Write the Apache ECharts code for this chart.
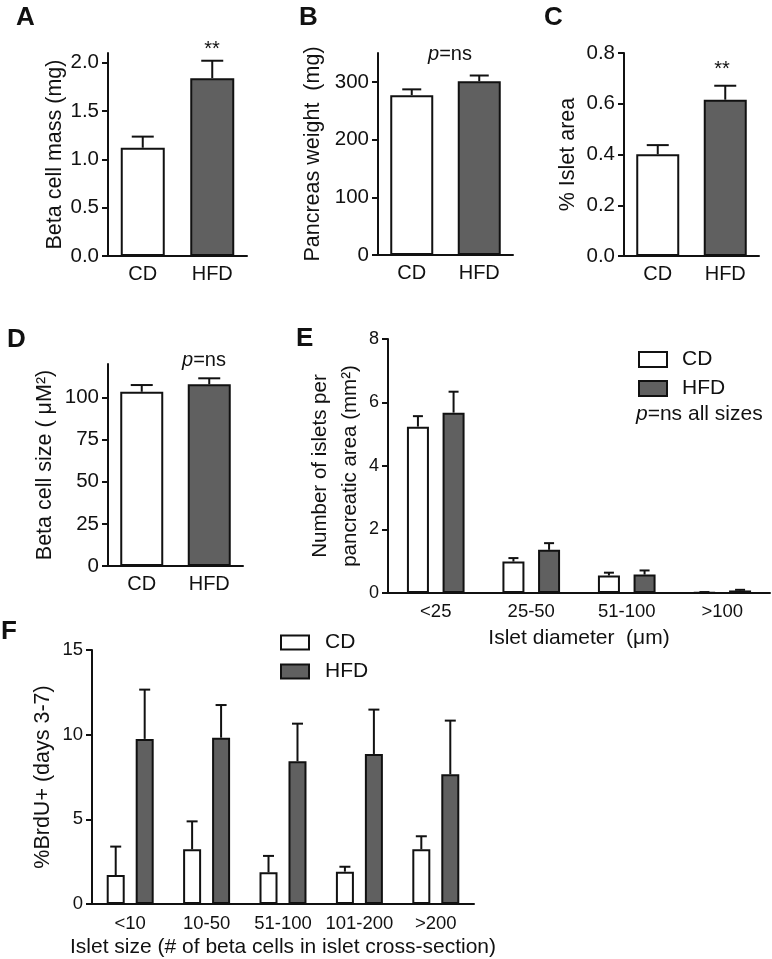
<!DOCTYPE html>
<html>
<head>
<meta charset="utf-8">
<script src="https://cdn.jsdelivr.net/npm/echarts@6/dist/echarts.min.js"></script>
<style>html,body{margin:0;padding:0;background:#fff;}#chart{width:772px;height:959px;}</style>
</head>
<body>
<div id="chart"></div>
<script>
// ---------- data ----------
const groupsAD = ['CD', 'HFD'];
const betaMass = [1.12, 1.84];
const betaMassErr = [0.115, 0.18];
const ticksA = [0, 0.5, 1.0, 1.5, 2.0];

const pancreasWeight = [277, 301];
const pancreasWeightErr = [10, 10];
const ticksB = [0, 100, 200, 300];

const isletArea = [0.401, 0.616];
const isletAreaErr = [0.036, 0.055];
const ticksC = [0, 0.2, 0.4, 0.6, 0.8];

const betaSize = [103.5, 107.9];
const betaSizeErr = [4.0, 3.6];
const ticksD = [0, 25, 50, 75, 100];

const diamCats = ['<25', '25-50', '51-100', '>100'];
const diamCD = [5.24, 0.99, 0.55, 0.02];
const diamCDErr = [0.33, 0.11, 0.09, 0.01];
const diamHFD = [5.68, 1.36, 0.58, 0.08];
const diamHFDErr = [0.66, 0.21, 0.13, 0.02];
const ticksE = [0, 2, 4, 6, 8];

const sizeCats = ['<10', '10-50', '51-100', '101-200', '>200'];
const brduCD = [1.71, 3.23, 1.87, 1.91, 3.23];
const brduCDErr = [1.68, 1.65, 0.97, 0.29, 0.77];
const brduHFD = [9.75, 9.82, 8.43, 8.86, 7.66];
const brduHFDErr = [2.91, 1.93, 2.22, 2.62, 3.17];
const ticksF = [0, 5, 10, 15];

// ---------- style ----------
const FONT = '"Liberation Sans", Arial, Helvetica, sans-serif';
const BLACK = '#111';
const WHITE_BAR = '#ffffff';
const DARK_BAR = '#606060';

const chart = echarts.init(document.getElementById('chart'), null, {renderer: 'canvas'});

const grids = [
  {left: 108, top: 53, width: 139, height: 203},   // A
  {left: 378, top: 53, width: 135, height: 202},   // B
  {left: 624, top: 53, width: 135, height: 203},   // C
  {left: 108, top: 364, width: 135, height: 202},  // D
  {left: 388, top: 339, width: 382, height: 254},  // E
  {left: 92, top: 650, width: 382, height: 254}    // F
].map(g => Object.assign({outerBoundsMode: 'none', containLabel: false}, g));

function xAx(gi, cats, fs, margin, name, nameGap, nameSize) {
  return {
    type: 'category', gridIndex: gi, data: cats,
    axisLine: {lineStyle: {color: BLACK, width: 2}},
    axisTick: {show: false},
    axisLabel: {color: BLACK, fontSize: fs, fontFamily: FONT, margin: margin, interval: 0},
    name: name || '', nameLocation: 'middle', nameGap: nameGap || 0,
    nameTextStyle: {color: BLACK, fontSize: nameSize || 21, fontFamily: FONT},
    splitLine: {show: false}
  };
}
function yAx(gi, max, ticks, fs, fmt, name, nameGap, nameSize, extraName) {
  return {
    type: 'value', gridIndex: gi, min: 0, max: max,
    axisLine: {show: true, lineStyle: {color: BLACK, width: 2}},
    axisTick: {show: true, length: 6, lineStyle: {color: BLACK, width: 2}, customValues: ticks},
    axisLabel: {color: BLACK, fontSize: fs, fontFamily: FONT, margin: 9, customValues: ticks, formatter: fmt},
    splitLine: {show: false},
    name: name, nameLocation: 'middle', nameGap: nameGap,
    nameTextStyle: Object.assign({color: BLACK, fontSize: nameSize, fontFamily: FONT}, extraName || {})
  };
}

const f1 = v => Number(v).toFixed(1);
const f0 = v => String(Math.round(v));

function singleBars(gi, vals, bw) {
  return {
    type: 'bar', name: 'panel' + gi, xAxisIndex: gi, yAxisIndex: gi, barWidth: bw,
    data: vals.map((v, i) => ({value: v, itemStyle: {color: i === 0 ? WHITE_BAR : DARK_BAR}})),
    itemStyle: {borderColor: BLACK, borderWidth: 2}, z: 2, silent: true
  };
}
function groupBars(gi, name, vals, color, bw, gap) {
  return {
    type: 'bar', name: name, xAxisIndex: gi, yAxisIndex: gi, barWidth: bw, barGap: gap,
    data: vals, itemStyle: {color: color, borderColor: BLACK, borderWidth: 2}, z: 2, silent: true
  };
}
function errSeries(gi, vals, errs, offset, capW) {
  return {
    type: 'custom', xAxisIndex: gi, yAxisIndex: gi, silent: true, z: 3,
    data: vals.map((v, i) => [i, v, errs[i]]),
    renderItem: function (params, api) {
      const i = api.value(0), v = api.value(1), e = api.value(2);
      const p0 = api.coord([i, v]);
      const p1 = api.coord([i, v + e]);
      const x = p0[0] + offset;
      const st = {stroke: BLACK, lineWidth: 2};
      return {type: 'group', children: [
        {type: 'line', shape: {x1: x, y1: p0[1], x2: x, y2: p1[1]}, style: st},
        {type: 'line', shape: {x1: x - capW / 2, y1: p1[1], x2: x + capW / 2, y2: p1[1]}, style: st}
      ]};
    }
  };
}

const bwE = 22, gapE = 0.62, offE = bwE * (1 + gapE) / 2;
const bwF = 18, gapF = 0.61, offF = bwF * (1 + gapF) / 2;

function txt(x, y, text, size, opts) {
  return {type: 'text', x: x, y: y, silent: true,
    style: Object.assign({text: text, fill: BLACK, font: (opts && opts.bold ? 'bold ' : '') + size + 'px ' + FONT,
      align: (opts && opts.align) || 'left', verticalAlign: 'top'}, (opts && opts.style) || {})};
}
function pText(x, y, text, align, size) {
  return {type: 'text', x: x, y: y, silent: true,
    style: {text: text, align: align, verticalAlign: 'top', fill: BLACK,
      fontSize: size, fontFamily: FONT,
      rich: {i: {fontStyle: 'italic', fontSize: size, fontFamily: FONT, fill: BLACK}}}};
}

const legendBase = {
  orient: 'vertical', data: ['CD', 'HFD'], itemWidth: 28, itemGap: 8, padding: 0,
  icon: 'rect', selectedMode: false,
  itemStyle: {borderColor: BLACK, borderWidth: 2}
};

const option = {
  animation: false,
  backgroundColor: '#fff',
  textStyle: {fontFamily: FONT},
  grid: grids,
  xAxis: [
    xAx(0, groupsAD, 20, 8),
    xAx(1, groupsAD, 20, 8),
    xAx(2, groupsAD, 20, 8),
    xAx(3, groupsAD, 20, 8),
    xAx(4, diamCats, 18.5, 9, 'Islet diameter  (\u03bcm)', 35, 21),
    xAx(5, sizeCats, 18.5, 10, 'Islet size (# of beta cells in islet cross-section)', 33, 21)
  ],
  yAxis: [
    yAx(0, 2.1, ticksA, 20.5, f1, 'Beta cell mass (mg)', 42, 21.5),
    yAx(1, 350, ticksB, 20.5, f0, 'Pancreas weight  (mg)', 54, 21.5),
    yAx(2, 0.8, ticksC, 20.5, f1, '% Islet area', 45, 21.5),
    yAx(3, 120, ticksD, 20.5, f0, 'Beta cell size ( \u03bcM\u00b2)', 52, 21.5),
    yAx(4, 8, ticksE, 18, f0, 'Number of islets per\npancreatic area (mm\u00b2)', 20, 20.5, {lineHeight: 30}),
    yAx(5, 15, ticksF, 18.5, f0, '%BrdU+ (days 3-7)', 38, 21.5)
  ],
  legend: [
    Object.assign({}, legendBase, {left: 638, top: 349, itemHeight: 15,
      textStyle: {color: BLACK, fontSize: 21, fontFamily: FONT, padding: [0, 0, 0, 10]}}),
    Object.assign({}, legendBase, {left: 280, top: 632, itemHeight: 14,
      textStyle: {color: BLACK, fontSize: 21, fontFamily: FONT, padding: [0, 0, 0, 11]}})
  ],
  series: [
    singleBars(0, betaMass, 44), errSeries(0, betaMass, betaMassErr, 0, 22),
    singleBars(1, pancreasWeight, 43), errSeries(1, pancreasWeight, pancreasWeightErr, 0, 19),
    singleBars(2, isletArea, 43), errSeries(2, isletArea, isletAreaErr, 0, 22),
    singleBars(3, betaSize, 43), errSeries(3, betaSize, betaSizeErr, 0, 22),
    groupBars(4, 'CD', diamCD, WHITE_BAR, bwE, (gapE * 100) + '%'),
    groupBars(4, 'HFD', diamHFD, DARK_BAR, bwE, (gapE * 100) + '%'),
    errSeries(4, diamCD, diamCDErr, -offE, 10),
    errSeries(4, diamHFD, diamHFDErr, offE, 10),
    groupBars(5, 'CD', brduCD, WHITE_BAR, bwF, (gapF * 100) + '%'),
    groupBars(5, 'HFD', brduHFD, DARK_BAR, bwF, (gapF * 100) + '%'),
    errSeries(5, brduCD, brduCDErr, -offF, 11),
    errSeries(5, brduHFD, brduHFDErr, offF, 11)
  ],
  graphic: [
    txt(16, 5, 'A', 26, {bold: true}),
    txt(299, 5, 'B', 26, {bold: true}),
    txt(544, 5, 'C', 26, {bold: true}),
    txt(7, 327, 'D', 26, {bold: true}),
    txt(296, 326, 'E', 26, {bold: true}),
    txt(1, 619, 'F', 26, {bold: true}),
    txt(212, 39, '**', 20, {align: 'center'}),
    txt(722, 59, '**', 20, {align: 'center'}),
    pText(450, 44, '{i|p}=ns', 'center', 20),
    pText(204, 350, '{i|p}=ns', 'center', 20),
    pText(636, 404, '{i|p}=ns all sizes', 'left', 21)
  ]
};
chart.setOption(option);
</script>
</body>
</html>
